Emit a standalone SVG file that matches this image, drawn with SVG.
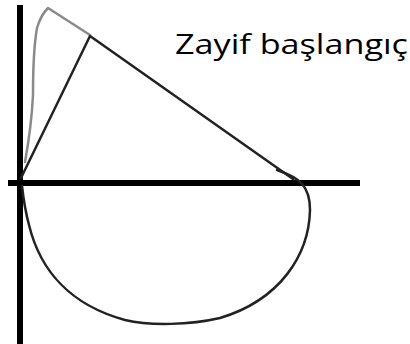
<svg xmlns="http://www.w3.org/2000/svg" width="410" height="344" viewBox="0 0 410 344">
<style>
.axis{stroke:#000;stroke-width:6;fill:none}
.dark{stroke:#222;stroke-width:2.5;fill:none;stroke-linecap:round;stroke-linejoin:round}
.gray{stroke:#8a8a8a;stroke-width:2.5;fill:none;stroke-linecap:round;stroke-linejoin:round}
.lbl{font-family:"Open Sans","Liberation Sans",sans-serif;font-size:28px;fill:#000}
</style>
<rect width="410" height="344" fill="#fff"/>
<g id="axes">
<line class="axis" x1="20" y1="5" x2="20" y2="344"/>
<line class="axis" x1="8" y1="183" x2="360" y2="183"/>
</g>
<g id="connectors">
<path class="gray" d="M25,162 C29,140 32,115 33,95 C33,70 34,45 37,28 C40,18 44,12 48,8 L90,35"/>
<path class="dark" d="M21,178 L90,36 L293,179"/>
<path class="dark" d="M277,170 C300,178 310,186 310,210 C309,255 280,300 220,318 C190,325 150,326 125,320 C70,305 40,270 29,225 C25,210 23,195 22,186"/>
</g>
<g id="label">
<text class="lbl" x="175" y="54" textLength="233" lengthAdjust="spacingAndGlyphs">Zayif başlangıç</text>
</g>
</svg>
